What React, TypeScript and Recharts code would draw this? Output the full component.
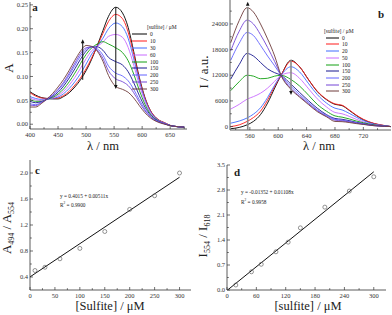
import {
  ComposedChart,
  Line,
  ReferenceDot,
  ReferenceLine,
  Scatter,
  XAxis,
  YAxis,
} from "recharts";
import type { CSSProperties, ReactNode } from "react";

const SERIF = '"Liberation Serif", "DejaVu Serif", serif';
const AXIS = "#333";

// shared legend / colours
const concA = ["0", "10", "30", "60", "100", "150", "200", "250", "300"];
const concB = ["0", "10", "20", "50", "100", "150", "200", "250", "300"];
const seriesColors = [
  "#000000",
  "#ff1a1a",
  "#3f6bff",
  "#c86bff",
  "#12a012",
  "#16168f",
  "#6363ff",
  "#7445d6",
  "#6e3b3b",
];

// panel a: absorption spectra
const absWl = [400, 410, 420, 430, 440, 450, 460, 470, 480, 490, 500, 510, 520, 530, 540, 553, 565, 575, 585, 595, 605, 615, 625, 640, 655, 675];
const abs0 = [0.068, 0.061, 0.056, 0.054, 0.053, 0.053, 0.058, 0.066, 0.078, 0.093, 0.112, 0.136, 0.165, 0.196, 0.226, 0.245, 0.233, 0.203, 0.152, 0.098, 0.056, 0.028, 0.013, 0.003, -0.004, -0.006];
const abs10 = [0.066, 0.059, 0.055, 0.054, 0.054, 0.055, 0.06, 0.069, 0.082, 0.097, 0.116, 0.139, 0.164, 0.19, 0.215, 0.23, 0.221, 0.193, 0.146, 0.095, 0.055, 0.028, 0.013, 0.003, -0.004, -0.006];
const abs30 = [0.058, 0.054, 0.052, 0.053, 0.054, 0.057, 0.064, 0.075, 0.089, 0.106, 0.126, 0.147, 0.163, 0.18, 0.2, 0.212, 0.204, 0.18, 0.137, 0.09, 0.052, 0.026, 0.012, 0.002, -0.004, -0.006];
const abs60 = [0.055, 0.051, 0.05, 0.052, 0.055, 0.06, 0.069, 0.082, 0.098, 0.117, 0.137, 0.154, 0.163, 0.172, 0.184, 0.188, 0.182, 0.161, 0.124, 0.082, 0.048, 0.024, 0.011, 0.002, -0.004, -0.006];
const abs100 = [0.052, 0.048, 0.048, 0.052, 0.056, 0.063, 0.074, 0.089, 0.107, 0.127, 0.146, 0.16, 0.168, 0.173, 0.168, 0.16, 0.15, 0.133, 0.105, 0.071, 0.042, 0.021, 0.01, 0.001, -0.004, -0.006];
const abs150 = [0.048, 0.045, 0.047, 0.052, 0.058, 0.067, 0.08, 0.097, 0.116, 0.136, 0.153, 0.162, 0.162, 0.155, 0.14, 0.131, 0.124, 0.11, 0.087, 0.06, 0.036, 0.019, 0.009, 0.001, -0.004, -0.006];
const abs200 = [0.043, 0.041, 0.046, 0.052, 0.06, 0.071, 0.085, 0.103, 0.123, 0.143, 0.157, 0.162, 0.158, 0.145, 0.122, 0.107, 0.101, 0.091, 0.073, 0.051, 0.031, 0.016, 0.008, 0.001, -0.004, -0.006];
const abs250 = [0.04, 0.039, 0.045, 0.052, 0.061, 0.073, 0.088, 0.107, 0.128, 0.148, 0.16, 0.162, 0.155, 0.138, 0.112, 0.095, 0.089, 0.081, 0.066, 0.046, 0.028, 0.015, 0.007, 0.001, -0.004, -0.006];
const abs300 = [0.036, 0.036, 0.043, 0.053, 0.064, 0.078, 0.094, 0.113, 0.134, 0.153, 0.165, 0.163, 0.153, 0.132, 0.102, 0.079, 0.073, 0.067, 0.055, 0.039, 0.024, 0.013, 0.006, 0.0, -0.004, -0.006];
const absSeries = [abs0, abs10, abs30, abs60, abs100, abs150, abs200, abs250, abs300];

// panel b: emission spectra
const fluWl = [533, 545, 556, 565, 575, 585, 595, 604, 618, 630, 643, 655, 668, 680, 690, 700, 710, 720, 735, 750, 759];
const flu0 = [-500, -200, 400, 1200, 2800, 5500, 9000, 12000, 15500, 14000, 10900, 8200, 6300, 5200, 4900, 3800, 2600, 1600, 700, 200, 0];
const flu10 = [0, 400, 1200, 2100, 3600, 6200, 9400, 12000, 15300, 14000, 10900, 8300, 6400, 5300, 5000, 3900, 2700, 1700, 750, 250, 0];
const flu20 = [800, 1300, 2000, 2900, 4400, 6800, 9700, 12000, 14000, 12800, 10000, 7500, 5500, 4300, 3900, 3100, 2200, 1400, 600, 200, 0];
const flu50 = [4100, 5200, 6400, 7000, 7800, 9000, 10600, 12000, 12600, 11300, 8800, 6500, 4600, 3300, 3000, 2400, 1700, 1100, 450, 150, 0];
const flu100 = [8400, 10500, 12000, 11800, 11200, 11300, 11800, 12000, 11000, 9500, 7300, 5200, 3600, 2500, 2200, 1800, 1300, 900, 400, 100, 0];
const flu150 = [11100, 14500, 17100, 16500, 15000, 13500, 12600, 12000, 9900, 8000, 6000, 4300, 2800, 1900, 1700, 1400, 1000, 700, 300, 100, 0];
const flu200 = [15500, 19500, 22000, 21300, 19000, 16500, 14200, 12000, 9400, 7500, 5600, 3900, 2600, 1700, 1500, 1200, 900, 600, 250, 80, 0];
const flu250 = [17700, 22300, 24900, 24000, 21500, 18500, 15200, 12000, 8900, 7100, 5300, 3700, 2400, 1500, 1350, 1100, 800, 550, 220, 70, 0];
const flu300 = [19600, 24800, 27800, 26800, 24000, 20500, 16500, 12000, 8700, 6900, 5100, 3500, 2300, 1200, 1150, 950, 700, 500, 200, 60, 0];
const fluSeries = [flu0, flu10, flu20, flu50, flu100, flu150, flu200, flu250, flu300];

// panel c: A494/A554 vs sulfite
const ratioCX = [10, 30, 60, 100, 150, 200, 250, 300];
const ratioCY = [0.5, 0.55, 0.68, 0.84, 1.1, 1.44, 1.65, 2.0];
const fitCX = [0, 300];
const fitCY = [0.4015, 1.9345];

// panel d: I554/I618 vs sulfite
const ratioDX = [18, 50, 70, 100, 125, 150, 200, 250, 300];
const ratioDY = [0.14, 0.51, 0.72, 1.07, 1.34, 1.74, 2.32, 2.77, 3.17];
const fitDX = [0, 300];
const fitDY = [-0.0135, 3.31];

// axis ticks (major get a label, minor only a mark)
const aXMajor = [400, 450, 500, 550, 600, 650];
const aXMinor = [425, 475, 525, 575, 625, 675];
const aYMajor = [0, 0.05, 0.1, 0.15, 0.2, 0.25];
const aYMinor = [0.025, 0.075, 0.125, 0.175, 0.225];
const bXMajor = [560, 600, 640, 680, 720];
const bXMinor = [540, 580, 620, 660, 700, 740];
const bYMajor = [0, 6000, 12000, 18000, 24000];
const bYMinor = [3000, 9000, 15000, 21000, 27000];
const cXMajor = [0, 50, 100, 150, 200, 250, 300];
const cXMinor = [25, 75, 125, 175, 225, 275];
const cYMajor = [0.4, 0.8, 1.2, 1.6, 2.0];
const cYMinor = [0.6, 1.0, 1.4, 1.8];
const dXMajor = [0, 60, 120, 180, 240, 300];
const dXMinor = [30, 90, 150, 210, 270];
const dYMajor = [0, 0.7, 1.4, 2.1, 2.8, 3.5];
const dYMinor = [0.35, 1.05, 1.75, 2.45, 3.15];

const absRows = absWl.map((wl, i) => {
  const r: Record<string, number> = { wl };
  absSeries.forEach((s, k) => (r["s" + k] = s[i]));
  return r;
});
const fluRows = fluWl.map((wl, i) => {
  const r: Record<string, number> = { wl };
  fluSeries.forEach((s, k) => (r["s" + k] = s[i]));
  return r;
});
const pointsC = ratioCX.map((x, i) => ({ x, y: ratioCY[i] }));
const lineC = fitCX.map((x, i) => ({ x, y: fitCY[i] }));
const pointsD = ratioDX.map((x, i) => ({ x, y: ratioDY[i] }));
const lineD = fitDX.map((x, i) => ({ x, y: fitDY[i] }));

function xTick(majors: number[], fmt: (v: number) => string) {
  return (p: any) => {
    const v = p.payload.value;
    const major = majors.includes(v);
    return (
      <g>
        <line x1={p.x} x2={p.x} y1={p.y} y2={p.y - (major ? 3 : 1.8)} stroke={AXIS} strokeWidth={0.7} />
        {major && (
          <text x={p.x} y={p.y + 8} textAnchor="middle" fontSize={6.5} fontFamily={SERIF} fill={AXIS}>
            {fmt(v)}
          </text>
        )}
      </g>
    );
  };
}

function yTick(majors: number[], fmt: (v: number) => string) {
  return (p: any) => {
    const v = p.payload.value;
    const major = majors.includes(v);
    return (
      <g>
        <line x1={p.x} x2={p.x + (major ? 3 : 1.8)} y1={p.y} y2={p.y} stroke={AXIS} strokeWidth={0.7} />
        {major && (
          <text x={p.x - 2} y={p.y + 2.2} textAnchor="end" fontSize={6.5} fontFamily={SERIF} fill={AXIS}>
            {fmt(v)}
          </text>
        )}
      </g>
    );
  };
}

const axisLine = { stroke: AXIS, strokeWidth: 0.8 };

function arrowHead(dir: "up" | "down") {
  return (p: any) => {
    const { cx, cy } = p;
    const d =
      dir === "up"
        ? `M${cx - 1.8},${cy + 4} L${cx},${cy} L${cx + 1.8},${cy + 4} Z`
        : `M${cx - 1.8},${cy - 4} L${cx},${cy} L${cx + 1.8},${cy - 4} Z`;
    return <path d={d} fill="#111" />;
  };
}

function Txt({ x, y, size, children, rotate, bold, anchor = "center" }: {
  x: number; y: number; size: number; children: ReactNode; rotate?: boolean; bold?: boolean; anchor?: "center" | "left";
}) {
  const style: CSSProperties = {
    position: "absolute",
    left: x,
    top: y,
    fontFamily: SERIF,
    fontSize: size,
    fontWeight: bold ? 700 : 400,
    lineHeight: 1,
    whiteSpace: "nowrap",
    color: "#222",
    transform:
      anchor === "left"
        ? "translate(0, -50%)"
        : `translate(-50%, -50%)${rotate ? " rotate(-90deg)" : ""}`,
  };
  return <div style={style}>{children}</div>;
}

function SeriesLegend({ x, y, labels, step, lineW, titleX }: {
  x: number; y: number; labels: string[]; step: number; lineW: number; titleX: number;
}) {
  return (
    <div style={{ position: "absolute", left: x, top: y, fontFamily: SERIF, fontSize: 5.5, color: "#222" }}>
      <div style={{ position: "absolute", left: titleX, top: -3, whiteSpace: "nowrap" }}>[sulfite] / μM</div>
      {labels.map((l, i) => (
        <div key={l} style={{ position: "absolute", left: 0, top: step * (i + 1) - 3, height: 6, display: "flex", alignItems: "center", whiteSpace: "nowrap" }}>
          <svg width={lineW} height={6} style={{ display: "block" }}>
            <line x1={0} x2={lineW} y1={3} y2={3} stroke={seriesColors[i]} strokeWidth={1} />
          </svg>
          <span style={{ marginLeft: 3 }}>{l}</span>
        </div>
      ))}
    </div>
  );
}

const fmt2 = (v: number) => v.toFixed(2);
const fmt1 = (v: number) => v.toFixed(1);
const fmt0 = (v: number) => String(v);

export default function App() {
  return (
    <div style={{ position: "fixed", left: 0, top: 0, width: 392, height: 315, background: "#fff", overflow: "hidden" }}>
      {/* a */}
      <div style={{ position: "absolute", left: 0, top: 0 }}>
        <ComposedChart width={196} height={155} data={absRows} margin={{ top: 2, right: 9, bottom: 0, left: 0 }}>
          <XAxis type="number" dataKey="wl" domain={[400, 680]} ticks={[...aXMajor, ...aXMinor]} interval={0}
            tick={xTick(aXMajor, fmt0)} tickLine={false} tickSize={0} tickMargin={0} axisLine={axisLine} height={26} allowDataOverflow />
          <YAxis type="number" domain={[-0.01, 0.256]} ticks={[...aYMajor, ...aYMinor]} interval={0}
            tick={yTick(aYMajor, fmt2)} tickLine={false} tickSize={0} tickMargin={0} axisLine={axisLine} width={30} allowDataOverflow />
          {absSeries.map((_, k) => (
            <Line key={k} type="monotone" dataKey={"s" + k} stroke={seriesColors[k]} strokeWidth={0.9} dot={false} isAnimationActive={false} />
          ))}
          <ReferenceLine segment={[{ x: 553, y: 0.245 }, { x: 553, y: 0.078 }]} stroke="#111" strokeWidth={1} />
          <ReferenceDot x={553} y={0.074} r={0} shape={arrowHead("down")} />
          <ReferenceLine segment={[{ x: 494, y: 0.093 }, { x: 494, y: 0.174 }]} stroke="#111" strokeWidth={1} />
          <ReferenceDot x={494} y={0.178} r={0} shape={arrowHead("up")} />
        </ComposedChart>
      </div>
      {/* b */}
      <div style={{ position: "absolute", left: 196, top: 0 }}>
        <ComposedChart width={196} height={155} data={fluRows} margin={{ top: 0, right: 1, bottom: 0, left: 0 }}>
          <XAxis type="number" dataKey="wl" domain={[532, 759]} ticks={[...bXMajor, ...bXMinor]} interval={0}
            tick={xTick(bXMajor, fmt0)} tickLine={false} tickSize={0} tickMargin={0} axisLine={axisLine} height={25} allowDataOverflow />
          <YAxis type="number" domain={[-800, 29600]} ticks={[...bYMajor, ...bYMinor]} interval={0}
            tick={yTick(bYMajor, fmt0)} tickLine={false} tickSize={0} tickMargin={0} axisLine={axisLine} width={34} allowDataOverflow />
          {fluSeries.map((_, k) => (
            <Line key={k} type="monotone" dataKey={"s" + k} stroke={seriesColors[k]} strokeWidth={0.9} dot={false} isAnimationActive={false} />
          ))}
          <ReferenceLine segment={[{ x: 557, y: -700 }, { x: 557, y: 28000 }]} stroke="#8a8a8a" strokeWidth={1.6} />
          <ReferenceDot x={557} y={29200} r={0} shape={arrowHead("up")} />
          <ReferenceLine segment={[{ x: 618, y: 15600 }, { x: 618, y: 8200 }]} stroke="#8a8a8a" strokeWidth={1.6} />
          <ReferenceDot x={618} y={7400} r={0} shape={arrowHead("down")} />
        </ComposedChart>
      </div>
      {/* c */}
      <div style={{ position: "absolute", left: 0, top: 155 }}>
        <ComposedChart width={196} height={160} margin={{ top: 5, right: 5, bottom: 0, left: 0 }}>
          <XAxis type="number" dataKey="x" domain={[0, 323]} ticks={[...cXMajor, ...cXMinor]} interval={0}
            tick={xTick(cXMajor, fmt0)} tickLine={false} tickSize={0} tickMargin={0} axisLine={axisLine} height={25} allowDataOverflow />
          <YAxis type="number" dataKey="y" domain={[0.2, 2.2]} ticks={[...cYMajor, ...cYMinor]} interval={0}
            tick={yTick(cYMajor, fmt1)} tickLine={false} tickSize={0} tickMargin={0} axisLine={axisLine} width={30} allowDataOverflow />
          <Line data={lineC} dataKey="y" stroke="#111" strokeWidth={1} dot={false} isAnimationActive={false} />
          <Scatter data={pointsC} dataKey="y" isAnimationActive={false}
            shape={(p: any) => <circle cx={p.cx} cy={p.cy} r={2} fill="none" stroke="#666" strokeWidth={0.7} />} />
        </ComposedChart>
      </div>
      {/* d */}
      <div style={{ position: "absolute", left: 196, top: 155 }}>
        <ComposedChart width={196} height={160} margin={{ top: 10, right: 6, bottom: 0, left: 0 }}>
          <XAxis type="number" dataKey="x" domain={[0, 325]} ticks={[...dXMajor, ...dXMinor]} interval={0}
            tick={xTick(dXMajor, fmt0)} tickLine={false} tickSize={0} tickMargin={0} axisLine={axisLine} height={25} allowDataOverflow />
          <YAxis type="number" dataKey="y" domain={[0, 3.5]} ticks={[...dYMajor, ...dYMinor]} interval={0}
            tick={yTick(dYMajor, fmt1)} tickLine={false} tickSize={0} tickMargin={0} axisLine={axisLine} width={31} allowDataOverflow />
          <Line data={lineD} dataKey="y" stroke="#111" strokeWidth={1} dot={false} isAnimationActive={false} />
          <Scatter data={pointsD} dataKey="y" isAnimationActive={false}
            shape={(p: any) => <circle cx={p.cx} cy={p.cy} r={2} fill="none" stroke="#666" strokeWidth={0.7} />} />
        </ComposedChart>
      </div>

      {/* titles, panel letters, legends, fit equations */}
      <Txt x={35} y={7} size={11} bold>a</Txt>
      <Txt x={381} y={14} size={11} bold>b</Txt>
      <Txt x={37.5} y={169.5} size={11} bold>c</Txt>
      <Txt x={237} y={172} size={11} bold>d</Txt>

      <Txt x={8} y={68} size={13} rotate>A</Txt>
      <Txt x={103} y={146} size={12.5}>λ / nm</Txt>
      <Txt x={203} y={72} size={13} rotate>I / a.u.</Txt>
      <Txt x={319} y={146} size={12.5}>λ / nm</Txt>
      <Txt x={8} y={228} size={13} rotate>
        A<sub style={{ fontSize: 8 }}>494</sub> / A<sub style={{ fontSize: 8 }}>554</sub>
      </Txt>
      <Txt x={110} y={306} size={12.5}>[Sulfite] / μM</Txt>
      <Txt x={204} y={236} size={13} rotate>
        I<sub style={{ fontSize: 8 }}>554</sub> / I<sub style={{ fontSize: 8 }}>618</sub>
      </Txt>
      <Txt x={308} y={306} size={12.5}>[sulfite] / μM</Txt>

      <Txt x={60} y={197} size={5.3} anchor="left">y = 0.4015 + 0.00511x</Txt>
      <Txt x={60} y={205} size={5.3} anchor="left">R<sup style={{ fontSize: 3.5 }}>2</sup> = 0.9900</Txt>
      <Txt x={241} y={193} size={5.3} anchor="left">y = -0.01352 + 0.01108x</Txt>
      <Txt x={241} y={201.5} size={5.3} anchor="left">R<sup style={{ fontSize: 3.5 }}>2</sup> = 0.9958</Txt>

      <SeriesLegend x={132} y={27} labels={concA} step={6.9} lineW={15} titleX={15} />
      <SeriesLegend x={326} y={31} labels={concB} step={6.7} lineW={13} titleX={-2} />
    </div>
  );
}
